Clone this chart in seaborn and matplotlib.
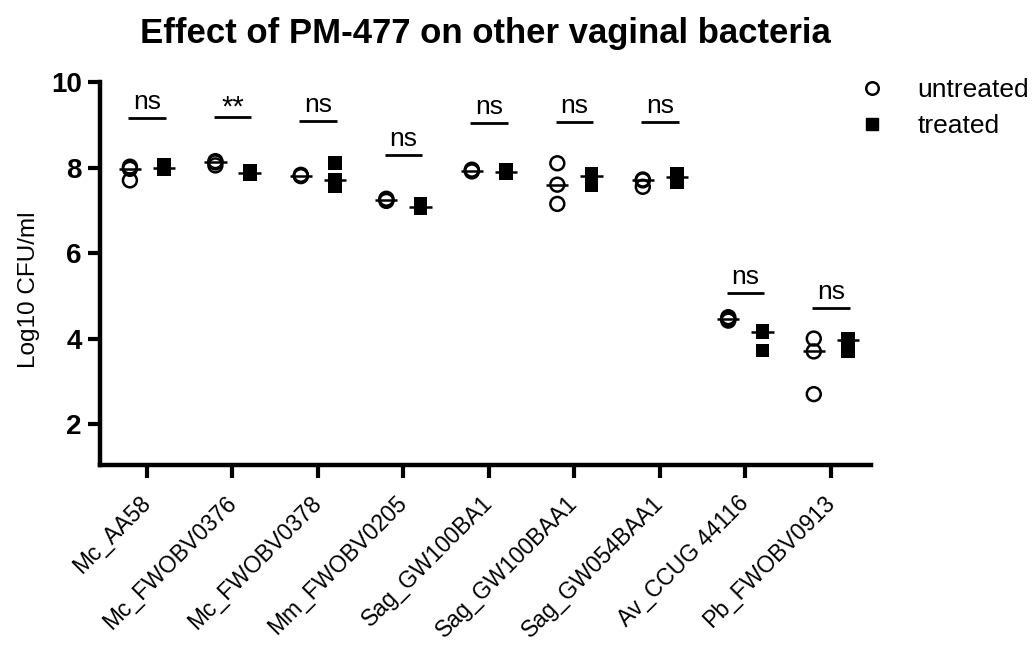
import numpy as np
import pandas as pd
import matplotlib
matplotlib.use("Agg")
import matplotlib.pyplot as plt
from matplotlib.lines import Line2D
import seaborn as sns

strains = ["Mc_AA58", "Mc_FWOBV0376", "Mc_FWOBV0378", "Mm_FWOBV0205",
           "Sag_GW100BA1", "Sag_GW100BAA1", "Sag_GW054BAA1",
           "Av_CCUG 44116", "Pb_FWOBV0913"]
groups = ["untreated", "treated"]

# three replicates per strain, log10 CFU/ml
untreated = [[8.02, 7.97, 7.70],
             [8.15, 8.12, 8.05],
             [7.83, 7.81, 7.80],
             [7.27, 7.25, 7.22],
             [7.95, 7.93, 7.91],
             [8.10, 7.60, 7.15],
             [7.72, 7.70, 7.55],
             [4.50, 4.46, 4.42],
             [4.00, 3.70, 2.70]]
treated = [[8.05, 7.98, 7.97],
           [7.93, 7.88, 7.85],
           [8.10, 7.72, 7.57],
           [7.15, 7.08, 7.05],
           [7.94, 7.90, 7.88],
           [7.85, 7.80, 7.60],
           [7.85, 7.78, 7.65],
           [4.17, 4.15, 3.72],
           [4.00, 3.97, 3.70]]

sig_labels = ["ns", "**", "ns", "ns", "ns", "ns", "ns", "ns", "ns"]
sig_heights = [9.15, 9.19, 9.09, 8.29, 9.04, 9.07, 9.07, 5.07, 4.71]

rows = []
for s, u, t in zip(strains, untreated, treated):
    for v in u:
        rows.append((s, "untreated", v))
    for v in t:
        rows.append((s, "treated", v))
df = pd.DataFrame(rows, columns=["strain", "group", "log_cfu"])

sns.set_style("ticks")
plt.rcParams["font.family"] = ["Liberation Sans", "DejaVu Sans"]
plt.rcParams.update({"text.color": "black", "axes.labelcolor": "black",
                     "xtick.color": "black", "ytick.color": "black"})

fig = plt.figure(figsize=(10.34, 6.46), dpi=100)
ax = fig.add_axes([0.0967, 0.280, 0.7457, 0.593])

for grp, mk in zip(groups, ["o", "s"]):
    n0 = len(ax.collections)
    sns.stripplot(data=df[df["group"] == grp], x="strain", y="log_cfu",
                  hue="group", hue_order=groups, order=strains,
                  palette={"untreated": "black", "treated": "black"},
                  dodge=True, jitter=False, marker=mk, size=10,
                  linewidth=0, legend=False, ax=ax)
    if grp == "untreated":
        for coll in ax.collections[n0:]:
            coll.set_facecolor("none")
            coll.set_edgecolor("black")
            coll.set_linewidth(1.8)

# medians
med = df.groupby(["strain", "group"])["log_cfu"].median()
for i, s in enumerate(strains):
    for off, grp in zip([-0.2, 0.2], groups):
        m = med[(s, grp)]
        ax.hlines(m, i + off - 0.13, i + off + 0.13, color="black", lw=1.8, zorder=5)

# significance bars
for i, (lab, h) in enumerate(zip(sig_labels, sig_heights)):
    ax.hlines(h, i - 0.22, i + 0.22, color="black", lw=2)
    if lab.startswith("*"):
        ax.text(i, h + 0.03, lab, ha="center", va="baseline", fontsize=21)
    else:
        ax.text(i, h + 0.21, lab, ha="center", va="baseline", fontsize=19)

ax.set_ylim(1.04, 10)
ax.set_xlim(-0.55, 8.47)
ax.set_yticks([2, 4, 6, 8, 10])
ax.set_xlabel("")
ax.set_ylabel("Log10 CFU/ml", fontsize=17.5)
ax.yaxis.set_label_coords(-0.078, 0.457)
ax.set_xticks(range(len(strains)))
ax.set_xticklabels(strains, rotation=45, ha="right", va="center",
                   rotation_mode="anchor", fontsize=16.5)
for lbl in ax.get_yticklabels():
    lbl.set_fontweight("bold")
    lbl.set_fontsize(20)
ax.tick_params(axis="both", length=9, width=3, color="black", pad=4)
ax.tick_params(axis="x", pad=16)
sns.despine(ax=ax)
for sp in ["left", "bottom"]:
    ax.spines[sp].set_linewidth(3.2)
    ax.spines[sp].set_color("black")

ax.set_title("Effect of PM-477 on other vaginal bacteria", fontsize=25,
             fontweight="bold", pad=28)

handles = [Line2D([], [], marker="o", ls="none", mfc="none", mec="black",
                  mew=1.8, ms=9),
           Line2D([], [], marker="s", ls="none", mfc="black", mec="black",
                  ms=9)]
fig.legend(handles, groups, loc="upper left", bbox_to_anchor=(0.831, 0.879),
           frameon=False, fontsize=19, handlelength=1.0, handletextpad=1.2,
           labelspacing=0.45, borderpad=0, borderaxespad=0)

fig.savefig("out.png", dpi=100)
